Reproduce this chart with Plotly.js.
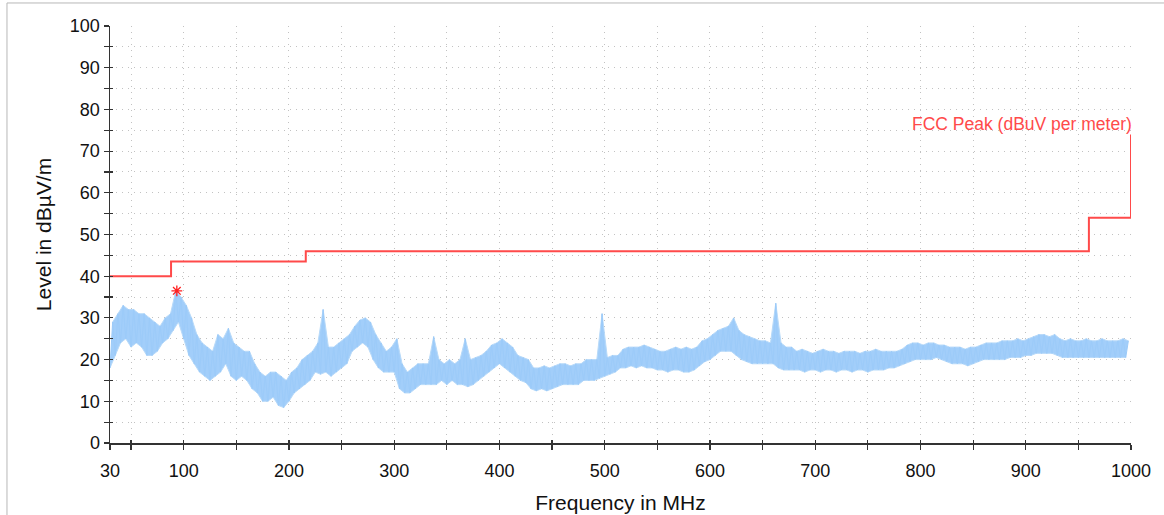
<!DOCTYPE html>
<html><head><meta charset="utf-8">
<script src="https://cdn.plot.ly/plotly-3.0.1.min.js"></script>
<style>html,body{margin:0;padding:0;background:#fff}#chart{width:1164px;height:515px}</style>
</head><body><div id="chart"></div>
<script>
// Measured trace: envelope per 5 MHz bin (low at bin start, high at bin mid)
const binStartMHz = 30;
const binStepMHz = 5;
const levelLow = [
  18, 21, 24, 25, 23, 24, 23, 21, 21, 22,
  24, 25, 27, 29, 25, 21, 19, 17, 16, 15,
  16, 17, 19, 16, 15, 16, 15, 13, 12, 10,
  10, 11, 9, 8.5, 10, 12, 13, 14, 15, 17,
  16.5, 17, 16, 17, 18, 19, 22, 23, 24, 23,
  20, 18, 17, 17, 17, 13, 12, 12, 13, 14,
  14, 14, 14, 15, 14, 15, 14, 14, 13.5, 14,
  15, 16, 17, 18, 19, 18, 17, 16, 15, 14.5,
  13, 12.5, 13, 12.5, 13, 13.5, 14, 14, 14, 14,
  15, 15, 15, 15.5, 16, 16.5, 17, 18, 18, 18.5,
  18, 18.5, 18, 18, 17.5, 17.5, 17, 17.5, 17.5, 17,
  17, 17.5, 18.5, 19.5, 20, 21, 22, 22, 22, 21,
  20, 19.5, 19, 19, 19, 19, 19, 18, 17.5, 17.5,
  17.5, 17.5, 17, 17.5, 17.5, 17, 17.5, 17.5, 17, 17.5,
  17.5, 17, 17.5, 17.5, 17, 17.5, 17.5, 17.5, 18, 18,
  18.5, 19, 19.5, 20, 20, 20, 20, 20.5, 20, 19.5,
  19, 19, 19, 18.5, 19, 19.5, 20, 20, 20, 20,
  20, 20.5, 20.5, 20.5, 21, 21, 21.5, 21.5, 21.5, 21.5,
  21, 20.5, 20.5, 20.5, 20.5, 20.5, 20.5, 20.5, 20.5, 20.5,
  20.5, 20.5, 20.5, 20.5
];
const levelHigh = [
  29, 31, 33, 32, 32, 31, 31, 30, 29, 28,
  30, 31, 36.5, 35, 33, 30, 26, 24, 23, 22,
  26, 25, 27.5, 24, 23, 22, 22, 19, 17, 16,
  17, 17, 16, 15, 17, 18, 20, 21, 22, 24,
  32, 23, 23, 24, 25, 26, 28, 29.5, 30, 29,
  26, 24, 22, 23, 25, 19, 17, 18, 19, 19,
  19, 25.5, 20, 19, 20, 19, 20, 25, 20, 20.5,
  21, 22, 23.5, 24, 25, 24, 23, 21, 20.5, 20,
  18, 18, 18.5, 18, 18.5, 19, 19, 18.5, 19, 19,
  20, 20, 20, 31, 20.5, 21, 21, 22.5, 23, 23,
  23, 23.5, 23, 22.5, 22, 22, 22.5, 23, 22.5, 23,
  22.5, 23, 24.5, 25, 26, 27, 27.5, 28, 30, 27,
  26, 25.5, 25, 24.5, 24.5, 24, 33.5, 24, 23, 23,
  22, 22.5, 22, 21.5, 22, 22.5, 22, 22, 21.5, 22,
  22, 22, 21.5, 22, 22, 22.5, 22, 22, 22, 22,
  22.5, 23.5, 24, 24, 23.5, 24, 24, 23.5, 23.5, 23,
  23, 23, 22.5, 23, 23, 23.5, 24, 24, 24, 24.5,
  24.5, 24.5, 25, 24.5, 25, 25.5, 26, 26, 25.5, 26,
  25, 24.5, 25, 24.5, 24.5, 25, 24.5, 24.5, 25, 24.5,
  24.5, 24.5, 25, 24.5
];

// FCC peak limit line
const limitFreq = [30, 88, 88, 216, 216, 960, 960, 1000, 1000];
const limitLevel = [40, 40, 43.5, 43.5, 46, 46, 54, 54, 74];
const limitLabel = 'FCC Peak (dBuV per meter)';

// Peak marker
const peakFreq = [93.5];
const peakLevel = [36.5];

// Axis ticks
const xTickVals = [30, 100, 200, 300, 400, 500, 600, 700, 800, 900, 1000];
const xTickText = ['30', '100', '200', '300', '400', '500', '600', '700', '800', '900', '1000'];
const xMinorVals = [50, 150, 250, 350, 450, 550, 650, 750, 850, 950];
const yTickVals = [0, 10, 20, 30, 40, 50, 60, 70, 80, 90, 100];
const yMinorVals = [5, 15, 25, 35, 45, 55, 65, 75, 85, 95];

const lowX = [], highX = [], zigX = [], zigY = [];
for (let i = 0; i < levelLow.length; i++) {
  const f = binStartMHz + i * binStepMHz;
  lowX.push(f);
  highX.push(f + binStepMHz / 2);
  zigX.push(f, f + binStepMHz / 2);
  zigY.push(levelLow[i], levelHigh[i]);
}

const FONT = 'Liberation Sans, Arial, sans-serif';
const gridCol = '#c2c2c2';
const gridDash = '1px,5px';
const axisCol = '#333333';
const blueFill = '#a2cefa';
const blueLine = '#9ccbf9';

const data = [
  {x: lowX, y: levelLow, type: 'scatter', mode: 'lines',
   line: {color: '#b8daf9', width: 1}, hoverinfo: 'skip', showlegend: false},
  {x: highX, y: levelHigh, type: 'scatter', mode: 'lines', fill: 'tonexty', fillcolor: blueFill,
   line: {color: '#b8daf9', width: 1}, hoverinfo: 'skip', showlegend: false},
  {x: zigX, y: zigY, type: 'scatter', mode: 'lines',
   line: {color: blueLine, width: 1}, hoverinfo: 'skip', showlegend: false},
  {x: limitFreq, y: limitLevel, type: 'scatter', mode: 'lines',
   line: {color: '#ff4a4a', width: 2}, showlegend: false},
  {x: peakFreq, y: peakLevel, type: 'scatter', mode: 'markers',
   marker: {symbol: 'asterisk-open', color: '#ff2020', size: 9, line: {color: '#ff2020', width: 1.3}}, showlegend: false},
  {x: [], y: [], xaxis: 'x2', yaxis: 'y2', type: 'scatter', showlegend: false}
];

const layout = {
  width: 1164, height: 515,
  margin: {l: 110, r: 33, t: 26, b: 72},
  paper_bgcolor: '#ffffff', plot_bgcolor: '#ffffff',
  font: {family: FONT, size: 18, color: '#111'},
  showlegend: false,
  xaxis: {
    range: [30, 1000], tickmode: 'array', tickvals: xTickVals, ticktext: xTickText,
    ticks: 'outside', ticklen: 5, tickwidth: 1.2, tickcolor: axisCol,
    showline: true, linecolor: axisCol, linewidth: 1.5,
    showgrid: true, gridcolor: gridCol, griddash: gridDash, gridwidth: 1,
    zeroline: false, ticklabelstandoff: 6,
    tickfont: {family: FONT, size: 18, color: '#111'},
    minor: {tickmode: 'array', tickvals: xMinorVals, ticks: 'outside', ticklen: 5, tickcolor: axisCol,
            showgrid: true, gridcolor: gridCol, griddash: gridDash, gridwidth: 1},
    title: {text: 'Frequency in MHz', font: {family: FONT, size: 21, color: '#111'}, standoff: 15},
    automargin: false
  },
  yaxis: {
    range: [0, 100], tickmode: 'array', tickvals: yTickVals,
    ticks: 'outside', ticklen: 5, tickwidth: 1.2, tickcolor: axisCol,
    showline: true, linecolor: axisCol, linewidth: 1.5,
    showgrid: true, gridcolor: gridCol, griddash: gridDash, gridwidth: 1,
    zeroline: false,
    tickfont: {family: FONT, size: 18, color: '#111'},
    minor: {tickmode: 'array', tickvals: yMinorVals, ticks: 'outside', ticklen: 5, tickcolor: axisCol,
            showgrid: true, gridcolor: gridCol, griddash: gridDash, gridwidth: 1},
    title: {text: 'Level in dBµV/m', font: {family: FONT, size: 21, color: '#111'}, standoff: 12},
    automargin: false
  },
  xaxis2: {
    overlaying: 'x', anchor: 'y', range: [30, 1000], tickmode: 'array', tickvals: xTickVals,
    ticks: 'inside', ticklen: 3, tickwidth: 1.2, tickcolor: axisCol, showticklabels: false,
    showgrid: false, zeroline: false, showline: false,
    minor: {tickmode: 'array', tickvals: xMinorVals, ticks: 'inside', ticklen: 3, tickcolor: axisCol, showgrid: false}
  },
  yaxis2: {
    overlaying: 'y', anchor: 'x', range: [0, 100], tickmode: 'array', tickvals: yTickVals,
    ticks: 'inside', ticklen: 3, tickwidth: 1.2, tickcolor: axisCol, showticklabels: false,
    showgrid: false, zeroline: false, showline: false,
    minor: {tickmode: 'array', tickvals: yMinorVals, ticks: 'inside', ticklen: 3, tickcolor: axisCol, showgrid: false}
  },
  annotations: [
    {x: 1000, y: 76.5, xref: 'x', yref: 'y', text: limitLabel, showarrow: false, xshift: 3,
     xanchor: 'right', yanchor: 'middle', font: {family: FONT, size: 17.5, color: '#ff4a4a'}}
  ],
  shapes: [
    {type: 'line', xref: 'paper', yref: 'paper', x0: -0.1009, x1: 1.05, y0: 1.0552, y1: 1.0552,
     line: {color: '#b8b8b8', width: 1}},
    {type: 'line', xref: 'paper', yref: 'paper', x0: -0.1009, x1: -0.1009, y0: -0.2, y1: 1.0552,
     line: {color: '#b8b8b8', width: 1}}
  ]
};

Plotly.newPlot('chart', data, layout, {displayModeBar: false, staticPlot: true});
</script>
</body></html>
